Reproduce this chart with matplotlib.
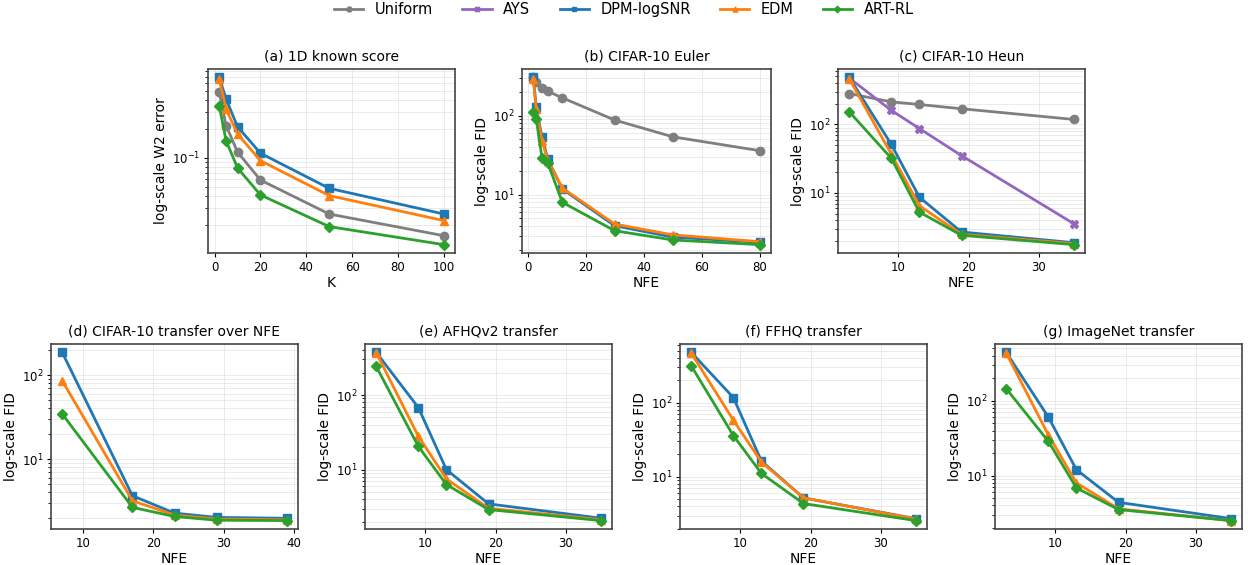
import matplotlib
matplotlib.use("Agg")
import matplotlib.pyplot as plt

# ---- data ----
k_1d = [2, 5, 10, 20, 50, 100]
w2_uniform = [0.481, 0.217, 0.115, 0.059, 0.0262, 0.0156]
w2_dpm = [0.687, 0.409, 0.211, 0.112, 0.0484, 0.0262]
w2_edm = [0.661, 0.323, 0.177, 0.0938, 0.0407, 0.0224]
w2_art = [0.349, 0.151, 0.0787, 0.0413, 0.0194, 0.0126]

nfe_euler = [2, 3, 5, 7, 12, 30, 50, 80]
euler_uniform = [305, 264, 222, 203, 168, 88, 54, 36]
euler_dpm = [305, 127, 53, 28, 11.8, 4.05, 2.9, 2.5]
euler_edm = [291, 121, 48, 27, 12.1, 4.25, 3.1, 2.54]
euler_art = [112, 91, 29, 25, 8.0, 3.5, 2.67, 2.33]

nfe_heun = [3, 9, 13, 19, 35]
heun_uniform = [281, 213, 195, 169, 118]
heun_ays = [474, 160, 87, 35, 3.56]
heun_dpm = [485, 51, 8.65, 2.69, 1.88]
heun_edm = [464, 36.7, 6.5, 2.49, 1.82]
heun_art = [153, 32, 5.24, 2.41, 1.76]

nfe_cifar_tr = [7, 17, 23, 29, 39]
cifar_tr_dpm = [186, 3.66, 2.27, 2.02, 1.97]
cifar_tr_edm = [85.7, 3.19, 2.15, 1.93, 1.89]
cifar_tr_art = [34.4, 2.66, 2.07, 1.87, 1.85]

nfe_transfer = [3, 9, 13, 19, 35]
afhq_dpm = [373, 68, 10.0, 3.47, 2.23]
afhq_edm = [370, 28, 7.5, 3.03, 2.13]
afhq_art = [242, 20.5, 6.3, 2.91, 2.07]
ffhq_dpm = [474, 117, 16.3, 5.2, 2.73]
ffhq_edm = [465, 58, 15.8, 5.2, 2.7]
ffhq_art = [313, 36, 11.1, 4.36, 2.57]
imnet_dpm = [441, 60.5, 12.0, 4.4, 2.67]
imnet_edm = [432, 35, 8.0, 3.6, 2.51]
imnet_art = [145, 28.7, 6.85, 3.52, 2.51]

styles = {
    'Uniform': dict(color='#7f7f7f', marker='o'),
    'AYS': dict(color='#9467bd', marker='X'),
    'DPM-logSNR': dict(color='#1f77b4', marker='s'),
    'EDM': dict(color='#ff7f0e', marker='^'),
    'ART-RL': dict(color='#2ca02c', marker='D'),
}


def draw(ax, x, series, title, xlabel, ylabel):
    for name, y in series:
        st = styles[name]
        ms = 6 if st['marker'] != 'D' else 5.5
        ax.plot(x, y, color=st['color'], marker=st['marker'], lw=2, ms=ms, label=name)
    ax.set_yscale('log')
    ax.set_title(title, fontsize=10)
    ax.set_xlabel(xlabel, fontsize=10, labelpad=2)
    ax.set_ylabel(ylabel, fontsize=10, labelpad=3)
    ax.tick_params(labelsize=8.5, length=3, pad=2.5)
    ax.tick_params(which='minor', length=2)
    ax.grid(True, which='both', color='#d8d8d8', lw=0.6, alpha=0.6)
    for sp in ax.spines.values():
        sp.set_color('#444444')
        sp.set_linewidth(1.2)


fig = plt.figure(figsize=(12.48, 5.65), dpi=100)
W, H = 1248, 565


def box(left, right, top, bottom):
    return [left / W, 1 - bottom / H, (right - left) / W, (bottom - top) / H]


ax_a = fig.add_axes(box(208, 455, 69, 253))
ax_b = fig.add_axes(box(522, 771, 69, 253))
ax_c = fig.add_axes(box(838, 1085, 69, 253))
ax_d = fig.add_axes(box(51, 298, 344, 529))
ax_e = fig.add_axes(box(365, 612, 344, 529))
ax_f = fig.add_axes(box(680, 927, 344, 529))
ax_g = fig.add_axes(box(995, 1242, 344, 529))

draw(ax_a, k_1d, [('Uniform', w2_uniform), ('DPM-logSNR', w2_dpm), ('EDM', w2_edm),
                  ('ART-RL', w2_art)], '(a) 1D known score', 'K', 'log-scale W2 error')
draw(ax_b, nfe_euler, [('Uniform', euler_uniform), ('DPM-logSNR', euler_dpm), ('EDM', euler_edm),
                       ('ART-RL', euler_art)], '(b) CIFAR-10 Euler', 'NFE', 'log-scale FID')
draw(ax_c, nfe_heun, [('Uniform', heun_uniform), ('AYS', heun_ays), ('DPM-logSNR', heun_dpm),
                      ('EDM', heun_edm), ('ART-RL', heun_art)], '(c) CIFAR-10 Heun', 'NFE', 'log-scale FID')
draw(ax_d, nfe_cifar_tr, [('DPM-logSNR', cifar_tr_dpm), ('EDM', cifar_tr_edm), ('ART-RL', cifar_tr_art)],
     '(d) CIFAR-10 transfer over NFE', 'NFE', 'log-scale FID')
draw(ax_e, nfe_transfer, [('DPM-logSNR', afhq_dpm), ('EDM', afhq_edm), ('ART-RL', afhq_art)],
     '(e) AFHQv2 transfer', 'NFE', 'log-scale FID')
draw(ax_f, nfe_transfer, [('DPM-logSNR', ffhq_dpm), ('EDM', ffhq_edm), ('ART-RL', ffhq_art)],
     '(f) FFHQ transfer', 'NFE', 'log-scale FID')
draw(ax_g, nfe_transfer, [('DPM-logSNR', imnet_dpm), ('EDM', imnet_edm), ('ART-RL', imnet_art)],
     '(g) ImageNet transfer', 'NFE', 'log-scale FID')

handles, labels = ax_c.get_legend_handles_labels()
fig.legend(handles, labels, loc='upper center', ncol=5, frameon=False, fontsize=10.5,
           bbox_to_anchor=(0.5, 1.02), markerscale=0.6, handlelength=2.0, columnspacing=2.0)

fig.savefig('out.png', dpi=100)
